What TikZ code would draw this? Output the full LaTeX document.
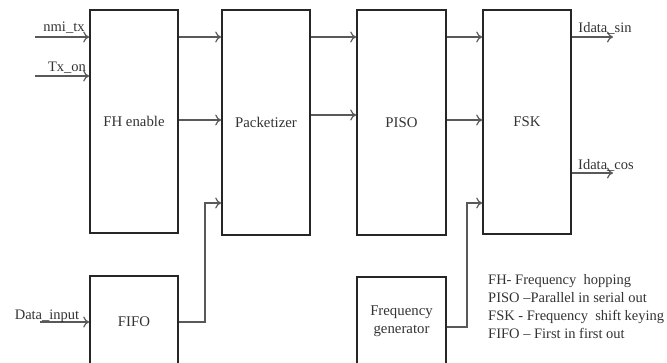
\documentclass[tikz,border=0pt]{standalone}
\usepackage{fontspec}
\setmainfont{Liberation Serif}
\usetikzlibrary{arrows.meta}

\begin{document}
\begin{tikzpicture}[x=1pt,y=-1pt,
  blk/.style={draw=black!85,line width=1.6pt,minimum width=88pt,inner sep=2pt,
              font=\fontsize{14.8}{17.5}\selectfont,text=black!80,align=center},
  sig/.style={line width=1.2pt,black!65,-{To[length=6pt,width=11pt]}},
  lbl/.style={font=\fontsize{14.5}{17}\selectfont,text=black!80,inner sep=0pt}]

  \clip (0,0) rectangle (667,363);

  % ===== blocks =====
  \node[blk,minimum height=223pt] (fh)   at (134,121.5) {FH enable};
  \node[blk,minimum height=225pt] (pk)   at (266,122.5) {Packetizer};
  \node[blk,minimum height=225pt,minimum width=89pt] (piso) at (401.5,122.5) {PISO};
  \node[blk,minimum height=224pt] (fsk)  at (527,122) {FSK};
  \node[blk,minimum height=92pt]  (fifo) at (134,322) {FIFO};
  \node[blk,minimum height=89pt,minimum width=89pt] (fgen) at (401.5,321.5) {Frequency\\generator};

  % ===== end points and rows =====
  \coordinate (nmi)  at (35,37);
  \coordinate (txon) at (35,76);
  \coordinate (din)  at (40,322);
  \coordinate (isin) at (613,37);
  \coordinate (icos) at (613,173);
  \coordinate (rowa) at (0,37);
  \coordinate (rowb) at (0,120);
  \coordinate (rowc) at (0,115);
  \coordinate (fifoup) at (205,203);
  \coordinate (fgenup) at (467,203);

  % ===== inputs =====
  \draw[sig] (nmi)  -- (fh.west |- nmi);
  \draw[sig] (txon) -- (fh.west |- txon);
  \draw[sig] (din)  -- (fifo.west |- din);

  % ===== links between blocks =====
  \draw[sig] (fh.east |- rowa)   -- (pk.west |- rowa);
  \draw[sig] (fh.east |- rowb)   -- (pk.west |- rowb);
  \draw[sig] (pk.east |- rowa)   -- (piso.west |- rowa);
  \draw[sig] (pk.east |- rowc)   -- (piso.west |- rowc);
  \draw[sig] (piso.east |- rowa) -- (fsk.west |- rowa);
  \draw[sig] (piso.east |- rowb) -- (fsk.west |- rowb);
  \draw[sig] (fifo.east) -| (fifoup) -- (pk.west |- fifoup);
  \draw[sig] ([yshift=-5.5pt]fgen.east) -| (fgenup) -- (fsk.west |- fgenup);

  % ===== outputs =====
  \draw[sig] (fsk.east |- isin) -- (isin);
  \draw[sig] (fsk.east |- icos) -- (icos);

  % ===== labels =====
  \node[lbl,anchor=base] (nmilbl)  at (64,32)   {nmi\_tx};
  \node[lbl,anchor=base] (txlbl)   at (67,72)   {Tx\_on};
  \node[lbl,anchor=base] (dinlbl)  at (47,320)  {Data\_input};
  \node[lbl,anchor=base] (sinlbl)  at (605,33)  {Idata\_sin};
  \node[lbl,anchor=base] (coslbl)  at (606,170) {Idata\_cos};

  % ===== legend =====
  \node[lbl,anchor=north west,align=left,font=\fontsize{14.5}{18}\selectfont] (legend) at (488,274)
    {FH- Frequency\ \ hopping\\
     PISO --Parallel in serial out\\
     FSK - Frequency\ \ shift keying\\
     FIFO -- First in first out};

\end{tikzpicture}
\end{document}
